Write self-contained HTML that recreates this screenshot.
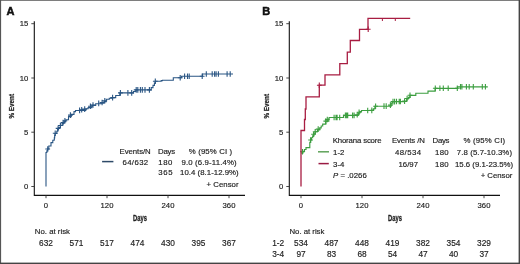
<!DOCTYPE html>
<html><head><meta charset="utf-8"><style>
html,body{margin:0;padding:0;background:#fff;}
svg{display:block;will-change:transform;}
text{font-family:"Liberation Sans", sans-serif;}
.t{stroke:#222;stroke-width:0.16;}
</style></head><body>
<svg width="520" height="264" viewBox="0 0 520 264">
<rect x="0" y="0" width="520" height="264" fill="#fff"/>
<text x="6.6" y="14.6" font-size="11" font-weight="bold" fill="#111" stroke="#111" stroke-width="0.5">A</text><path d="M34.3,21.2V195.4H245" fill="none" stroke="#111" stroke-width="1.1"/><path d="M31.3,23.7H34.3" stroke="#333" stroke-width="0.9"/><text class="t" x="28.3" y="26.2" font-size="7.7" text-anchor="end" fill="#222">15</text><path d="M31.3,78.0H34.3" stroke="#333" stroke-width="0.9"/><text class="t" x="28.3" y="80.5" font-size="7.7" text-anchor="end" fill="#222">10</text><path d="M31.3,132.2H34.3" stroke="#333" stroke-width="0.9"/><text class="t" x="28.3" y="134.7" font-size="7.7" text-anchor="end" fill="#222">5</text><path d="M31.3,186.5H34.3" stroke="#333" stroke-width="0.9"/><text class="t" x="28.3" y="189.0" font-size="7.7" text-anchor="end" fill="#222">0</text><path d="M46,195.4V198.2" stroke="#333" stroke-width="0.9"/><text class="t" x="46" y="208.1" font-size="7.7" text-anchor="middle" fill="#222">0</text><path d="M107,195.4V198.2" stroke="#333" stroke-width="0.9"/><text class="t" x="107" y="208.1" font-size="7.7" text-anchor="middle" fill="#222">120</text><path d="M168,195.4V198.2" stroke="#333" stroke-width="0.9"/><text class="t" x="168" y="208.1" font-size="7.7" text-anchor="middle" fill="#222">240</text><path d="M229,195.4V198.2" stroke="#333" stroke-width="0.9"/><text class="t" x="229" y="208.1" font-size="7.7" text-anchor="middle" fill="#222">360</text><text x="133.1" y="221.0" font-size="9.7" font-weight="bold" fill="#222" stroke="#222" stroke-width="0.3" textLength="13.9" lengthAdjust="spacingAndGlyphs">Days</text><text transform="translate(14.3,118.6) rotate(-90)" font-size="7.7" font-weight="bold" fill="#222" stroke="#222" stroke-width="0.25" textLength="24.6" lengthAdjust="spacingAndGlyphs">% Event</text><text x="262.20000000000005" y="14.6" font-size="11" font-weight="bold" fill="#111" stroke="#111" stroke-width="0.5">B</text><path d="M289.3,21.2V195.4H500" fill="none" stroke="#111" stroke-width="1.1"/><path d="M286.3,23.7H289.3" stroke="#333" stroke-width="0.9"/><text class="t" x="283.3" y="26.2" font-size="7.7" text-anchor="end" fill="#222">15</text><path d="M286.3,78.0H289.3" stroke="#333" stroke-width="0.9"/><text class="t" x="283.3" y="80.5" font-size="7.7" text-anchor="end" fill="#222">10</text><path d="M286.3,132.2H289.3" stroke="#333" stroke-width="0.9"/><text class="t" x="283.3" y="134.7" font-size="7.7" text-anchor="end" fill="#222">5</text><path d="M286.3,186.5H289.3" stroke="#333" stroke-width="0.9"/><text class="t" x="283.3" y="189.0" font-size="7.7" text-anchor="end" fill="#222">0</text><path d="M301,195.4V198.2" stroke="#333" stroke-width="0.9"/><text class="t" x="301" y="208.1" font-size="7.7" text-anchor="middle" fill="#222">0</text><path d="M362,195.4V198.2" stroke="#333" stroke-width="0.9"/><text class="t" x="362" y="208.1" font-size="7.7" text-anchor="middle" fill="#222">120</text><path d="M423,195.4V198.2" stroke="#333" stroke-width="0.9"/><text class="t" x="423" y="208.1" font-size="7.7" text-anchor="middle" fill="#222">240</text><path d="M484,195.4V198.2" stroke="#333" stroke-width="0.9"/><text class="t" x="484" y="208.1" font-size="7.7" text-anchor="middle" fill="#222">360</text><text x="388.1" y="221.0" font-size="9.7" font-weight="bold" fill="#222" stroke="#222" stroke-width="0.3" textLength="13.9" lengthAdjust="spacingAndGlyphs">Days</text><text transform="translate(269.3,118.6) rotate(-90)" font-size="7.7" font-weight="bold" fill="#222" stroke="#222" stroke-width="0.25" textLength="24.6" lengthAdjust="spacingAndGlyphs">% Event</text><path d="M46.00,186.50V152.50H46.85V150.75H47.70V149.00H48.80V146.00H51.00V142.60H52.80V140.30H54.00V140.00H54.33V137.83H54.67V135.67H55.00V133.50H56.80V131.30H57.65V129.40H58.50V127.50H60.35V125.50H62.20V123.50H64.00V121.65H65.80V119.80H68.50V116.60H71.30V114.40H74.00V111.60H75.50V110.50H79.40V110.40H85.80V108.80H88.10V107.60H91.90V105.40H95.70V103.80H101.00V103.10H104.00V101.60H106.30V99.30H109.30V98.20H112.60V97.60H115.70V95.50H119.80V92.90H133.50V91.50H135.80V89.90H150.00H151.20V87.60H153.00V85.40H154.40V83.10H155.30V81.30H159.40H161.20V80.60H162.50V80.20H173.30V77.70H181.60V76.30H202.50V74.00H233.00" fill="none" stroke="#2a5684" stroke-width="1.1"/><path d="M47.70,146.20V151.80M45.30,149.00H50.10M55.20,130.46V136.06M52.80,133.26H57.60M58.10,125.59V131.19M55.70,128.39H60.50M60.40,122.65V128.25M58.00,125.45H62.80M63.10,119.78V125.38M60.70,122.58H65.50M64.90,117.92V123.52M62.50,120.72H67.30M70.40,112.31V117.91M68.00,115.11H72.80M79.60,107.55V113.15M81.70,107.03V112.62M79.30,109.83H84.10M84.70,106.28V111.88M82.30,109.08H87.10M90.40,103.47V109.07M88.00,106.27H92.80M93.00,102.14V107.74M90.60,104.94H95.40M98.70,100.60V106.20M102.10,99.75V105.35M99.70,102.55H104.50M104.80,98.00V103.60M102.40,100.80H107.20M112.60,94.80V100.40M110.20,97.60H115.00M120.40,90.10V95.70M118.00,92.90H122.80M127.90,90.10V95.70M131.70,90.10V95.70M129.30,92.90H134.10M136.20,87.10V92.70M133.80,89.90H138.60M137.80,87.10V92.70M140.40,87.10V92.70M142.30,87.10V92.70M145.00,87.10V92.70M149.40,87.10V92.70M147.00,89.90H151.80M155.30,78.50V84.10M152.90,81.30H157.70M180.20,74.90V80.50M177.80,77.70H182.60M184.60,73.50V79.10M187.50,73.50V79.10M189.20,73.50V79.10M202.20,73.50V79.10M199.80,76.30H204.60M206.30,71.20V76.80M212.20,71.20V76.80M214.60,71.20V76.80M216.10,71.20V76.80M218.40,71.20V76.80M227.10,71.20V76.80M230.20,71.20V76.80" fill="none" stroke="#2a5684" stroke-width="1.1"/><path d="M301.00,153.00H303.00V151.40H304.50V149.50H306.00V147.60H309.80V142.30H310.60V140.00H311.40V137.70H312.67V135.70H313.93V133.70H315.20V131.70H317.45V129.80H319.70V127.90H321.20V126.00H322.70V124.10H325.80V121.10H328.80V118.00H329.50V117.50H343.50V117.40V115.40H356.80H358.30V113.10H359.80V111.60H361.50V110.50H371.80V110.40H373.40V108.90H374.90V106.20H390.00V106.10H391.20V103.20H392.30V101.60H404.20V101.50H406.70V99.00H408.30V97.30H410.00V95.30H415.80V93.20H428.00V91.10H435.20V88.30H457.50V86.80H487.80" fill="none" stroke="#3c9e40" stroke-width="1.15"/><path d="M302.50,149.00V154.60M300.10,151.80H304.90M310.60,137.20V142.80M308.20,140.00H313.00M313.60,131.43V137.03M311.20,134.23H316.00M315.20,128.90V134.50M312.80,131.70H317.60M318.20,126.37V131.97M315.80,129.17H320.60M325.80,118.30V123.90M323.40,121.10H328.20M327.30,116.75V122.35M324.90,119.55H329.70M334.10,114.67V120.27M336.00,114.65V120.25M337.10,114.65V120.25M339.70,114.63V120.23M345.40,112.60V118.20M343.00,115.40H347.80M346.60,112.60V118.20M347.70,112.60V118.20M352.60,112.60V118.20M354.10,112.60V118.20M357.20,111.99V117.59M354.80,114.79H359.60M359.10,109.50V115.10M356.70,112.30H361.50M367.70,107.64V113.24M371.80,107.60V113.20M369.40,110.40H374.20M375.60,103.40V109.00M373.20,106.20H378.00M384.00,103.34V108.94M386.20,103.33V108.93M390.40,102.33V107.93M388.00,105.13H392.80M393.00,98.79V104.39M390.60,101.59H395.40M394.60,98.78V104.38M396.50,98.76V104.36M399.20,98.74V104.34M400.40,98.73V104.33M404.60,98.30V103.90M402.20,101.10H407.00M407.10,95.77V101.37M404.70,98.57H409.50M410.00,92.50V98.10M407.60,95.30H412.40M435.30,85.50V91.10M432.90,88.30H437.70M439.90,85.50V91.10M443.30,85.50V91.10M448.20,85.50V91.10M457.30,85.50V91.10M454.90,88.30H459.70M460.50,84.00V89.60M461.90,84.00V89.60M466.40,84.00V89.60M469.20,84.00V89.60M473.30,84.00V89.60M482.30,84.00V89.60M485.40,84.00V89.60" fill="none" stroke="#3c9e40" stroke-width="1.1"/><path d="M301.00,186.50V130.50H304.50V119.50H305.30V109.00H306.00V96.80H319.30V85.20H325.00V74.90H339.80V63.60H347.30V52.20H350.30V40.50H359.50V29.30H368.00V18.30H410.20" fill="none" stroke="#a81d42" stroke-width="1.3"/><path d="M319.30,82.40V88.00M316.90,85.20H321.70M368.20,26.50V32.10M365.80,29.30H370.60" fill="none" stroke="#a81d42" stroke-width="1.1"/><path d="M382.4,18.3V21M395.3,18.3V21" fill="none" stroke="#a81d42" stroke-width="1.0"/><path d="M102.1,161.6H113.4" stroke="#2e4a68" stroke-width="1.5"/><text class="t" x="119.6" y="154.2" font-size="7.8" text-anchor="start" fill="#222" textLength="31.1" lengthAdjust="spacing">Events/N</text><text class="t" x="158" y="154.2" font-size="7.8" text-anchor="start" fill="#222" textLength="17.2" lengthAdjust="spacing">Days</text><text class="t" x="188.8" y="154.2" font-size="7.8" text-anchor="start" fill="#222" textLength="43.3" lengthAdjust="spacing">% (95% CI )</text><text class="t" x="122.4" y="164.6" font-size="7.8" text-anchor="start" fill="#222" textLength="25.8" lengthAdjust="spacing">64/632</text><text class="t" x="158.3" y="164.6" font-size="7.8" text-anchor="start" fill="#222" textLength="14.1" lengthAdjust="spacing">180</text><text class="t" x="181.5" y="164.6" font-size="7.8" text-anchor="start" fill="#222" textLength="55.2" lengthAdjust="spacing">9.0 (6.9-11.4%)</text><text class="t" x="158.3" y="174.6" font-size="7.8" text-anchor="start" fill="#222" textLength="14.3" lengthAdjust="spacing">365</text><text class="t" x="180" y="174.6" font-size="7.8" text-anchor="start" fill="#222" textLength="58.7" lengthAdjust="spacing">10.4 (8.1-12.9%)</text><text class="t" x="206.6" y="186.7" font-size="7.8" text-anchor="start" fill="#222" textLength="31.9" lengthAdjust="spacing">+ Censor</text><path d="M318,151.8H329" stroke="#5fa35a" stroke-width="1.5"/><path d="M318.5,163.6H328.8" stroke="#9a1b42" stroke-width="1.5"/><text class="t" x="332.7" y="142.6" font-size="7.8" text-anchor="start" fill="#222" textLength="48.9" lengthAdjust="spacing">Khorana score</text><text class="t" x="392" y="142.6" font-size="7.8" text-anchor="start" fill="#222" textLength="32.9" lengthAdjust="spacing">Events /N</text><text class="t" x="432.6" y="142.6" font-size="7.8" text-anchor="start" fill="#222" textLength="16.8" lengthAdjust="spacing">Days</text><text class="t" x="463.6" y="142.6" font-size="7.8" text-anchor="start" fill="#222" textLength="41.5" lengthAdjust="spacing">% (95% CI)</text><text class="t" x="333.1" y="154.6" font-size="7.8" text-anchor="start" fill="#222" textLength="11.2" lengthAdjust="spacing">1-2</text><text class="t" x="395" y="154.6" font-size="7.8" text-anchor="start" fill="#222" textLength="26.0" lengthAdjust="spacing">48/534</text><text class="t" x="435" y="154.6" font-size="7.8" text-anchor="start" fill="#222" textLength="13.6" lengthAdjust="spacing">180</text><text class="t" x="456.8" y="154.6" font-size="7.8" text-anchor="start" fill="#222" textLength="55.2" lengthAdjust="spacing">7.8 (5.7-10.3%)</text><text class="t" x="333.1" y="166.5" font-size="7.8" text-anchor="start" fill="#222" textLength="11.2" lengthAdjust="spacing">3-4</text><text class="t" x="398.5" y="166.5" font-size="7.8" text-anchor="start" fill="#222" textLength="19.5" lengthAdjust="spacing">16/97</text><text class="t" x="435" y="166.5" font-size="7.8" text-anchor="start" fill="#222" textLength="13.6" lengthAdjust="spacing">180</text><text class="t" x="455" y="166.5" font-size="7.8" text-anchor="start" fill="#222" textLength="58.1" lengthAdjust="spacing">15.6 (9.1-23.5%)</text><text class="t" x="333" y="177.6" font-size="7.8" fill="#222" textLength="33.8" lengthAdjust="spacing"><tspan font-style="italic">P</tspan> = .0266</text><text class="t" x="480.7" y="177.6" font-size="7.8" text-anchor="start" fill="#222" textLength="31.7" lengthAdjust="spacing">+ Censor</text><text class="t" x="34.8" y="233.7" font-size="7.8" text-anchor="start" fill="#222" textLength="35.2" lengthAdjust="spacing">No. at risk</text><text class="t" x="46" y="245.5" font-size="8.3" text-anchor="middle" fill="#222">632</text><text class="t" x="76.5" y="245.5" font-size="8.3" text-anchor="middle" fill="#222">571</text><text class="t" x="107" y="245.5" font-size="8.3" text-anchor="middle" fill="#222">517</text><text class="t" x="137.5" y="245.5" font-size="8.3" text-anchor="middle" fill="#222">474</text><text class="t" x="168" y="245.5" font-size="8.3" text-anchor="middle" fill="#222">430</text><text class="t" x="198.5" y="245.5" font-size="8.3" text-anchor="middle" fill="#222">395</text><text class="t" x="229" y="245.5" font-size="8.3" text-anchor="middle" fill="#222">367</text><text class="t" x="289.5" y="233.8" font-size="7.8" text-anchor="start" fill="#222" textLength="34.9" lengthAdjust="spacing">No. at risk</text><text class="t" x="272.2" y="245.5" font-size="8.3" text-anchor="start" fill="#222">1-2</text><text class="t" x="272.2" y="256.9" font-size="8.3" text-anchor="start" fill="#222">3-4</text><text class="t" x="301" y="245.5" font-size="8.3" text-anchor="middle" fill="#222">534</text><text class="t" x="331.5" y="245.5" font-size="8.3" text-anchor="middle" fill="#222">487</text><text class="t" x="362" y="245.5" font-size="8.3" text-anchor="middle" fill="#222">448</text><text class="t" x="392.5" y="245.5" font-size="8.3" text-anchor="middle" fill="#222">419</text><text class="t" x="423" y="245.5" font-size="8.3" text-anchor="middle" fill="#222">382</text><text class="t" x="453.5" y="245.5" font-size="8.3" text-anchor="middle" fill="#222">354</text><text class="t" x="484" y="245.5" font-size="8.3" text-anchor="middle" fill="#222">329</text><text class="t" x="301" y="256.9" font-size="8.3" text-anchor="middle" fill="#222">97</text><text class="t" x="331.5" y="256.9" font-size="8.3" text-anchor="middle" fill="#222">83</text><text class="t" x="362" y="256.9" font-size="8.3" text-anchor="middle" fill="#222">68</text><text class="t" x="392.5" y="256.9" font-size="8.3" text-anchor="middle" fill="#222">54</text><text class="t" x="423" y="256.9" font-size="8.3" text-anchor="middle" fill="#222">47</text><text class="t" x="453.5" y="256.9" font-size="8.3" text-anchor="middle" fill="#222">40</text><text class="t" x="484" y="256.9" font-size="8.3" text-anchor="middle" fill="#222">37</text>
<rect x="0" y="0" width="520" height="0.9" fill="#707070"/>
<rect x="0" y="0" width="1.1" height="264" fill="#555"/>
<rect x="518.6" y="0" width="1.4" height="264" fill="#444"/>
<rect x="0" y="262.6" width="520" height="1.4" fill="#444"/>
</svg>
</body></html>
